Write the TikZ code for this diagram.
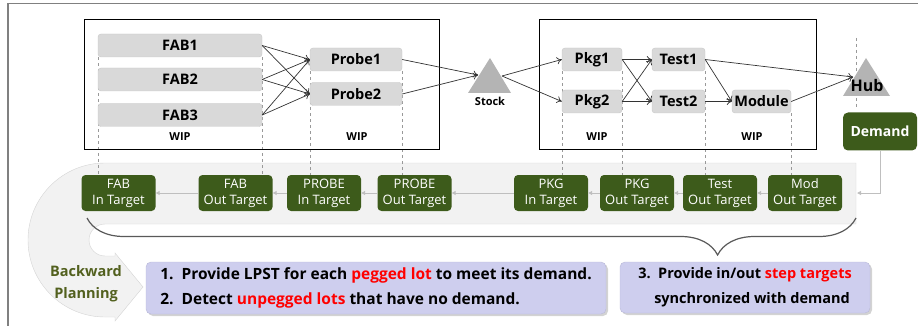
\documentclass[tikz,border=0pt]{standalone}
\usepackage{fontspec}
\setmainfont{Open Sans}
\usetikzlibrary{arrows.meta,decorations.pathreplacing,shadows}
\pgfdeclarelayer{background}
\pgfsetlayers{background,main}
\definecolor{stepgray}{RGB}{217,217,217}
\definecolor{stepline}{RGB}{200,200,200}
\definecolor{tgtgreen}{RGB}{61,91,27}
\definecolor{bandgray}{RGB}{242,242,242}
\definecolor{bandline}{RGB}{212,212,212}
\definecolor{lav}{RGB}{206,206,238}
\definecolor{lavline}{RGB}{185,185,215}
\definecolor{olive}{RGB}{82,96,30}
\definecolor{tri}{RGB}{180,180,180}
\tikzset{
  stepbox/.style={draw=stepline,fill=stepgray,rounded corners=3pt,minimum height=23pt,inner sep=0pt,font=\bfseries\fontsize{14.5}{15}\selectfont},
  target/.style={fill=tgtgreen,rounded corners=4pt,minimum width=74pt,minimum height=36pt,inner sep=0pt,text=white,align=center,font=\fontsize{13}{16}\selectfont},
  flow/.style={-{To[length=5pt,width=7pt]},black!80,line width=0.7pt},
  back/.style={-{Triangle[length=4pt,width=4pt]},black!25,line width=1pt},
  guide/.style={dashed,black!40,line width=0.5pt},
  wip/.style={font=\bfseries\fontsize{11}{12}\selectfont},
  note/.style={draw=lavline,fill=lav,rounded corners=5pt,align=left,drop shadow={opacity=0.35,shadow xshift=2pt,shadow yshift=-2pt}}
}
\begin{document}
\begin{tikzpicture}[x=1pt,y=-1pt]
\useasboundingbox (0,0) rectangle (918,326);
\draw[black!50,line width=1.2pt] (8,326) -- (8,3.5) -- (918,3.5);

% flow of lots
\draw[line width=0.8pt] (84,19) rectangle (439,149);
\draw[line width=0.8pt] (539,19) rectangle (816,149);

\node[stepbox,minimum width=164pt] (fab1) at (180,45.5) {FAB1};
\node[stepbox,minimum width=164pt] (fab2) at (180,79.5) {FAB2};
\node[stepbox,minimum width=164pt] (fab3) at (180,115) {FAB3};
\node[stepbox,minimum width=92pt] (probe1) at (356,59.5) {Probe1};
\node[stepbox,minimum width=92pt] (probe2) at (356,94) {Probe2};
\node[stepbox,minimum width=60pt] (pkg1) at (592,59.5) {Pkg1};
\node[stepbox,minimum width=60pt] (pkg2) at (592,101.5) {Pkg2};
\node[stepbox,minimum width=53pt] (test1) at (678.5,59.5) {Test1};
\node[stepbox,minimum width=53pt] (test2) at (678.5,101.5) {Test2};
\node[stepbox,minimum width=59pt] (module) at (761.5,101.5) {Module};

\node[wip] at (180,137) {WIP};
\node[wip] at (357,137) {WIP};
\node[wip] at (597,137) {WIP};
\node[wip] at (752,137) {WIP};

\fill[tri] (468,93) -- (490,58) -- (511,93) -- cycle;
\node[wip] (stock) at (490,101) {Stock};
\coordinate (stockin) at (478,75);
\coordinate (stockout) at (502,76);

\coordinate (hubtop) at (856,38);
\coordinate (hubbot) at (856,108);
\draw[guide] (hubtop) -- (hubbot);
\fill[tri] (843,96) -- (866,58) -- (890,96) -- cycle;
\node[font=\bfseries\fontsize{16}{17}\selectfont] (hub) at (867,86) {Hub};
\coordinate (hubin) at (853,77);

\foreach \f in {fab1,fab2,fab3} {
  \draw[flow] (\f.east) -- (probe1.west);
  \draw[flow] (\f.east) -- (probe2.west);
}
\draw[flow] (probe1.east) -- (stockin);
\draw[flow] (probe2.east) -- (stockin);
\draw[flow] (stockout) -- (pkg1.west);
\draw[flow] (stockout) -- (pkg2.west);
\foreach \p in {pkg1,pkg2} {
  \draw[flow] (\p.east) -- (test1.west);
  \draw[flow] (\p.east) -- (test2.west);
}
\draw[flow] (test1.east) -- (module.west);
\draw[flow] (test2.east) -- (module.west);
\draw[flow] (test1.east) -- (hubin);
\draw[flow] (module.east) -- (hubin);

% step targets
\node[target] (fabin) at (118.5,193) {FAB\\In Target};
\node[target] (fabout) at (235.5,193) {FAB\\Out Target};
\node[target] (probein) at (324,193) {PROBE\\In Target};
\node[target] (probeout) at (414.5,193) {PROBE\\Out Target};
\node[target] (pkgin) at (551,193) {PKG\\In Target};
\node[target] (pkgout) at (637,193) {PKG\\Out Target};
\node[target] (testout) at (720,193) {Test\\Out Target};
\node[target] (modout) at (805,193) {Mod\\Out Target};

\node[fill=tgtgreen,rounded corners=5pt,minimum width=74pt,minimum height=38pt,text=white,font=\bfseries\fontsize{14}{15}\selectfont] (demand) at (880,131.5) {Demand};
\coordinate (bandin) at (857,193);
\draw[back] (demand.south) |- (bandin);

\draw[back] (modout.west) -- (testout.east);
\draw[back] (testout.west) -- (pkgout.east);
\draw[back] (pkgout.west) -- (pkgin.east);
\draw[back] (pkgin.west) -- (probeout.east);
\draw[back] (probeout.west) -- (probein.east);
\draw[back] (probein.west) -- (fabout.east);
\draw[back] (fabout.west) -- (fabin.east);

\begin{pgfonlayer}{background}
\draw[bandline,fill=bandgray] (856,163) -- (105,163) arc[start angle=90,end angle=270,radius=77pt]
  -- (115,317) -- (115,321) -- (143,287) -- (115,253) -- (115,256) -- (105,256)
  arc[start angle=270,end angle=90,radius=16pt] -- (856,224) -- cycle;
\draw[guide] (fab1.south west) -- (fab1.south west |- fabin.north);
\draw[guide] (fab1.south east) -- (fab1.south east |- fabout.north);
\draw[guide] (probe1.south west) -- (probe1.south west |- probein.north);
\draw[guide] (probe1.south east) -- (probe1.south east |- probeout.north);
\draw[guide] (pkg1.south west) -- (pkg1.south west |- pkgin.north);
\draw[guide] (pkg1.south east) -- (pkg1.south east |- pkgout.north);
\draw[guide] (test1.south east) -- (test1.south east |- testout.north);
\draw[guide] (module.south east) -- (module.south east |- modout.north);
\end{pgfonlayer}

% backward planning
\draw[decorate,decoration={brace,amplitude=37pt,aspect=0.18},black!65,line width=1.2pt] (856,218) -- (87,218);
\node[olive,align=center,font=\bfseries\fontsize{14.5}{22}\selectfont] (backward) at (86,284) {Backward\\Planning};
\node[note,minimum width=460pt,minimum height=52pt,font=\bfseries\fontsize{15.5}{25}\selectfont] (note1) at (376,288)
  {1.\ \ Provide LPST for each \textcolor{red}{pegged lot} to meet its demand.\\
   2.\ \ Detect \textcolor{red}{unpegged lots} that have no demand.};
\node[note,minimum width=250pt,minimum height=51pt,font=\bfseries\fontsize{14.5}{25}\selectfont] (note2) at (745,287.5)
  {3.\ \ Provide in/out \textcolor{red}{step targets}\\
   \hspace*{16pt}synchronized with demand};
\end{tikzpicture}
\end{document}
